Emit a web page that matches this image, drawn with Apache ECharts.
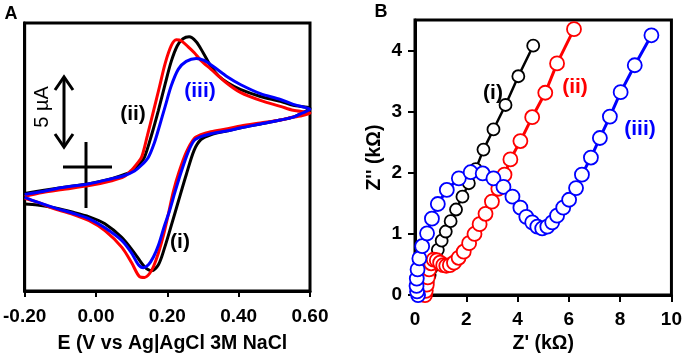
<!DOCTYPE html>
<html><head><meta charset="utf-8">
<script src="https://cdn.jsdelivr.net/npm/echarts@6/dist/echarts.min.js"></script>
<style>html,body{margin:0;padding:0;background:#fff}#c{width:685px;height:359px}</style>
</head><body><div id="c"></div>
<script>
// ---------- Panel A: cyclic voltammograms, [E (V), I (µA)] ----------
const cvXTicks = [-0.2, 0, 0.2, 0.4, 0.6];
const cvBlack = [
  [-0.200,-2.08],[-0.150,-1.87],[-0.094,-1.66],[-0.019,-1.39],[0.044,-1.04],[0.078,-0.76],[0.108,-0.42],[0.122,0.00],[0.136,0.49],[0.156,2.08],[0.175,3.81],[0.194,5.69],[0.211,7.28],[0.228,8.39],[0.244,8.88],[0.261,9.02],[0.281,8.67],[0.300,7.91],[0.322,6.93],[0.344,6.24],[0.369,5.76],[0.406,5.27],[0.461,4.79],[0.517,4.44],[0.553,4.16],[0.600,3.95],
  [0.572,3.54],[0.553,3.33],[0.517,3.12],[0.461,2.84],[0.406,2.57],[0.369,2.36],[0.322,2.08],[0.294,1.73],[0.275,0.97],[0.253,-0.76],[0.231,-2.64],[0.211,-4.37],[0.192,-5.96],[0.175,-7.14],[0.156,-7.56],[0.136,-7.28],[0.108,-6.31],[0.072,-5.20],[0.025,-4.23],[-0.019,-3.74],[-0.067,-3.40],[-0.114,-3.12],[-0.164,-2.91],[-0.200,-2.84]
];
const cvRed = [
  [-0.200,-2.29],[-0.150,-2.01],[-0.094,-1.80],[-0.019,-1.53],[0.044,-1.18],[0.078,-0.90],[0.100,-0.42],[0.114,0.00],[0.128,0.49],[0.144,2.01],[0.161,3.74],[0.178,5.48],[0.194,7.14],[0.211,8.39],[0.225,8.81],[0.239,8.74],[0.258,8.32],[0.275,7.91],[0.294,7.35],[0.322,6.73],[0.369,5.69],[0.406,5.06],[0.461,4.51],[0.517,4.09],[0.553,3.81],[0.600,3.61],
  [0.572,3.40],[0.553,3.33],[0.517,3.12],[0.461,2.91],[0.406,2.70],[0.369,2.50],[0.322,2.29],[0.294,2.08],[0.275,1.80],[0.253,0.83],[0.233,-0.55],[0.217,-1.94],[0.203,-3.54],[0.189,-5.06],[0.175,-6.31],[0.161,-7.28],[0.150,-7.77],[0.136,-8.04],[0.122,-7.98],[0.100,-7.00],[0.072,-5.89],[0.025,-4.72],[-0.019,-4.02],[-0.067,-3.54],[-0.114,-3.19],[-0.164,-2.70],[-0.200,-2.43]
];
const cvBlue = [
  [-0.200,-2.15],[-0.150,-1.94],[-0.094,-1.66],[-0.019,-1.39],[0.044,-1.04],[0.078,-0.83],[0.108,-0.49],[0.128,-0.07],[0.147,0.49],[0.164,1.53],[0.178,2.70],[0.194,4.09],[0.211,5.55],[0.231,6.73],[0.253,7.28],[0.281,7.49],[0.303,7.35],[0.328,6.93],[0.369,6.17],[0.406,5.62],[0.461,4.99],[0.517,4.58],[0.553,4.23],[0.600,3.88],
  [0.572,3.54],[0.553,3.33],[0.517,3.12],[0.461,2.84],[0.406,2.57],[0.369,2.36],[0.322,2.15],[0.294,1.94],[0.275,1.66],[0.258,0.83],[0.239,-0.55],[0.222,-1.94],[0.206,-3.33],[0.192,-4.37],[0.175,-5.76],[0.161,-6.59],[0.147,-7.14],[0.133,-7.35],[0.119,-7.14],[0.100,-6.31],[0.072,-5.41],[0.025,-4.51],[-0.019,-3.88],[-0.067,-3.47],[-0.114,-3.12],[-0.164,-2.70],[-0.200,-2.36]
];
// ---------- Panel B: Nyquist plots, [Z' (kΩ), Z'' (kΩ)] ----------
const nyXTicks = [0, 2, 4, 6, 8, 10];
const nyYTicks = [0, 1, 2, 3, 4];
const nyBlack = [
  [0.31,0.00],[0.35,0.04],[0.42,0.12],[0.49,0.22],[0.57,0.33],[0.66,0.45],[0.77,0.59],[0.89,0.74],[1.04,0.89],[1.20,1.04],[1.39,1.21],[1.60,1.40],[1.85,1.61],[2.10,1.83],[2.37,2.06],[2.67,2.38],[3.06,2.71],[3.53,3.11],[4.03,3.58],[4.61,4.08]
];
const nyRed = [
  [0.39,0.00],[0.42,0.07],[0.46,0.17],[0.50,0.29],[0.55,0.42],[0.63,0.52],[0.73,0.58],[0.85,0.57],[0.98,0.53],[1.10,0.49],[1.22,0.48],[1.36,0.49],[1.52,0.53],[1.70,0.61],[1.90,0.71],[2.11,0.85],[2.32,1.00],[2.52,1.16],[2.75,1.33],[3.00,1.53],[3.25,1.74],[3.49,1.97],[3.72,2.22],[4.11,2.52],[4.57,2.91],[5.08,3.31],[5.54,3.79],[6.20,4.35]
];
const nyBlue = [
  [0.12,0.00],[0.08,0.06],[0.06,0.15],[0.07,0.27],[0.10,0.42],[0.17,0.60],[0.28,0.80],[0.47,1.01],[0.66,1.25],[0.89,1.49],[1.24,1.72],[1.71,1.91],[2.17,2.01],[2.64,1.99],[3.06,1.91],[3.45,1.77],[3.80,1.61],[4.11,1.43],[4.34,1.28],[4.57,1.19],[4.77,1.12],[4.96,1.09],[5.16,1.12],[5.35,1.19],[5.54,1.30],[5.78,1.43],[6.01,1.56],[6.28,1.75],[6.51,1.97],[6.86,2.25],[7.21,2.57],[7.60,2.92],[8.02,3.32],[8.57,3.76],[9.22,4.25]
];

const FONT = '"Liberation Sans", Arial, sans-serif';
const BLACK = '#000000', RED = '#ff0000', BLUE = '#0000ff';
const chart = echarts.init(document.getElementById('c'));

function txt(x, y, s, color, size, weight, extra) {
  return Object.assign({
    type: 'text', x: x, y: y, z: 100,
    style: { text: s, fill: color, font: (weight || 'bold') + ' ' + size + 'px ' + FONT, align: 'center', verticalAlign: 'middle' }
  }, extra || {});
}
const lineSt = { stroke: BLACK, lineWidth: 3 };

const option = {
  animation: false,
  backgroundColor: '#fff',
  grid: [
    { left: 22, top: 23, width: 288, height: 274, show: true, borderColor: BLACK, borderWidth: 3, backgroundColor: 'transparent' },
    { left: 415, top: 20, width: 258, height: 280, show: true, borderColor: BLACK, borderWidth: 3, backgroundColor: 'transparent' }
  ],
  xAxis: [
    { gridIndex: 0, type: 'value', min: cvXTicks[0], max: cvXTicks[cvXTicks.length - 1], interval: 0.2,
      name: 'E (V vs Ag|AgCl 3M NaCl', nameLocation: 'middle', nameGap: 43,
      nameTextStyle: { fontFamily: FONT, fontWeight: 'bold', fontSize: 19.5, color: BLACK, padding: [0, 0, 0, 10] },
      axisLine: { onZero: false, lineStyle: { color: BLACK, width: 3 } },
      axisTick: { show: true, inside: false, length: 6, lineStyle: { color: BLACK, width: 2 } },
      axisLabel: { margin: 16, fontFamily: FONT, fontWeight: 'bold', fontSize: 19, color: BLACK,
        formatter: v => (Math.abs(v) < 1e-9 ? 0 : v).toFixed(2) },
      splitLine: { show: false } },
    { gridIndex: 1, type: 'value', min: nyXTicks[0], max: nyXTicks[nyXTicks.length - 1], interval: 2,
      name: "Z' (kΩ)", nameLocation: 'middle', nameGap: 37,
      nameTextStyle: { fontFamily: FONT, fontWeight: 'bold', fontSize: 19.5, color: BLACK },
      axisLine: { onZero: false, lineStyle: { color: BLACK, width: 3 } },
      axisTick: { show: true, length: 7, lineStyle: { color: BLACK, width: 2 } },
      axisLabel: { margin: 15, fontFamily: FONT, fontWeight: 'bold', fontSize: 19, color: BLACK },
      splitLine: { show: false } }
  ],
  yAxis: [
    { gridIndex: 0, type: 'value', min: -9, max: 10,
      axisLine: { show: true, onZero: false, lineStyle: { color: BLACK, width: 3 } },
      axisTick: { show: false }, axisLabel: { show: false }, splitLine: { show: false } },
    { gridIndex: 1, type: 'value', min: nyYTicks[0], max: 4.5, interval: 1,
      name: "Z'' (kΩ)", nameLocation: 'middle', nameGap: 30,
      nameTextStyle: { fontFamily: FONT, fontWeight: 'bold', fontSize: 19.5, color: BLACK },
      axisLine: { onZero: false, lineStyle: { color: BLACK, width: 3 } },
      axisTick: { show: true, length: 7, lineStyle: { color: BLACK, width: 2 } },
      axisLabel: { margin: 13, fontFamily: FONT, fontWeight: 'bold', fontSize: 19, color: BLACK, showMaxLabel: false,
        formatter: v => (Number.isInteger(v) ? String(v) : '') },
      splitLine: { show: false } }
  ],
  series: [
    { type: 'line', xAxisIndex: 0, yAxisIndex: 0, data: cvBlack, showSymbol: false, smooth: 0.3, lineStyle: { color: BLACK, width: 3 }, z: 2 },
    { type: 'line', xAxisIndex: 0, yAxisIndex: 0, data: cvRed, showSymbol: false, smooth: 0.3, lineStyle: { color: RED, width: 3 }, z: 3 },
    { type: 'line', xAxisIndex: 0, yAxisIndex: 0, data: cvBlue, showSymbol: false, smooth: 0.3, lineStyle: { color: BLUE, width: 3 }, z: 4 },
    { type: 'line', xAxisIndex: 1, yAxisIndex: 1, data: nyBlack, symbol: 'circle', symbolSize: 12, clip: false,
      lineStyle: { color: BLACK, width: 2.5 }, itemStyle: { color: '#fff', borderColor: BLACK, borderWidth: 1.8 }, z: 2 },
    { type: 'line', xAxisIndex: 1, yAxisIndex: 1, data: nyRed, symbol: 'circle', symbolSize: 14, clip: false,
      lineStyle: { color: RED, width: 3 }, itemStyle: { color: '#fff', borderColor: RED, borderWidth: 1.8 }, z: 3 },
    { type: 'line', xAxisIndex: 1, yAxisIndex: 1, data: nyBlue, symbol: 'circle', symbolSize: 14, clip: false,
      lineStyle: { color: BLUE, width: 3 }, itemStyle: { color: '#fff', borderColor: BLUE, borderWidth: 1.8 }, z: 4 }
  ],
  graphic: [
    txt(11, 14, 'A', BLACK, 18),
    txt(381, 12, 'B', BLACK, 18),
    txt(133, 114, '(ii)', BLACK, 21),
    txt(200, 91, '(iii)', BLUE, 21),
    txt(180, 242, '(i)', BLACK, 21),
    txt(493, 93, '(i)', BLACK, 21),
    txt(575, 87, '(ii)', RED, 21),
    txt(640, 129, '(iii)', BLUE, 21),
    txt(42, 107, '5 µA', BLACK, 20, 'normal', { rotation: Math.PI / 2 }),
    { type: 'line', shape: { x1: 64, y1: 78, x2: 64, y2: 146 }, style: lineSt },
    { type: 'polyline', shape: { points: [[55, 90], [64, 77], [73, 90]] }, style: { stroke: BLACK, lineWidth: 3, fill: null } },
    { type: 'polyline', shape: { points: [[55, 134], [64, 147], [73, 134]] }, style: { stroke: BLACK, lineWidth: 3, fill: null } },
    { type: 'line', shape: { x1: 63, y1: 167, x2: 112, y2: 167 }, style: lineSt },
    { type: 'line', shape: { x1: 86, y1: 142, x2: 86, y2: 208 }, style: lineSt }
  ]
};
chart.setOption(option);
</script>
</body></html>
